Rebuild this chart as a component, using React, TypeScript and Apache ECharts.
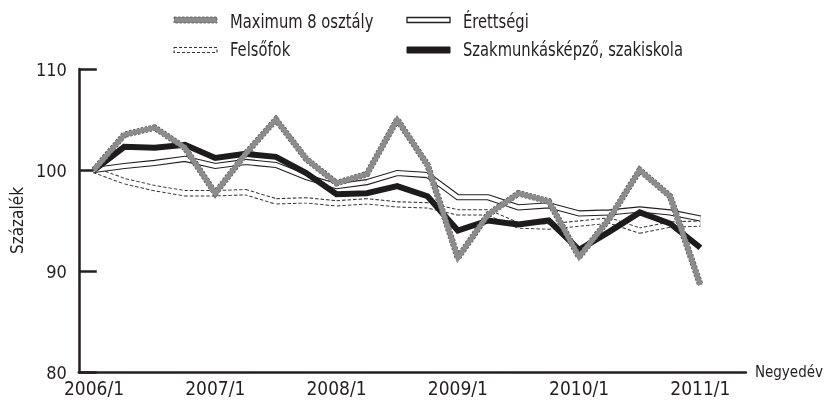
import React, { useEffect, useRef } from "react";
import * as echarts from "echarts";

const categories = [
  "2006/1", "2006/2", "2006/3", "2006/4",
  "2007/1", "2007/2", "2007/3", "2007/4",
  "2008/1", "2008/2", "2008/3", "2008/4",
  "2009/1", "2009/2", "2009/3", "2009/4",
  "2010/1", "2010/2", "2010/3", "2010/4",
  "2011/1", "2011/2",
];

const yTicks = [80, 90, 100, 110];

const max8 = [100, 103.5, 104.2, 102.2, 97.7, 101.6, 105.0, 101.1, 98.7, 99.6, 105.0, 100.5, 91.3, 95.6, 97.7, 96.9, 91.4, 95.2, 100.0, 97.4, 88.6];
const erettsegi = [100, 100.4, 100.7, 101.1, 100.4, 100.8, 100.5, 99.3, 98.4, 98.8, 99.7, 99.5, 97.3, 97.3, 96.3, 96.5, 95.7, 95.8, 96.1, 95.8, 95.2];
const felsofok = [100, 98.9, 98.2, 97.7, 97.7, 97.8, 96.9, 97.0, 96.7, 96.9, 96.6, 96.5, 95.8, 95.8, 94.5, 94.4, 94.7, 95.0, 94.0, 94.6, 94.7];
const szakmunkas = [100, 102.3, 102.2, 102.5, 101.2, 101.6, 101.3, 99.7, 97.6, 97.7, 98.4, 97.4, 94.0, 95.0, 94.6, 95.0, 92.1, 93.9, 95.8, 94.7, 92.3];

const names = ["Maximum 8 osztály", "Érettségi", "Felsőfok", "Szakmunkásképző, szakiskola"];

const FONT = '"DejaVu Sans Condensed", "DejaVu Sans", sans-serif';
const TXT = "#231f20";

function lineSeries(name: string, data: number[], style: any) {
  return {
    type: "line",
    name,
    data,
    symbol: "none",
    silent: true,
    lineStyle: { join: "miter", cap: "butt", ...style },
  };
}

export default function App() {
  const ref = useRef<HTMLDivElement>(null);
  useEffect(() => {
    const chart = echarts.init(ref.current!, null, { renderer: "svg" });
    const legendIcon = (x: number, y: number, style: any, h: number) => ({
      type: "rect",
      shape: { x, y: y - h / 2, width: 43, height: h },
      style,
      silent: true,
    });
    const legendText = (x: number, y: number, text: string) => ({
      type: "text",
      x,
      y,
      scaleX: 0.82,
      style: { text, fontSize: 20, fontFamily: FONT, fill: TXT, align: "left", verticalAlign: "middle" },
      silent: true,
    });
    const option: any = {
      animation: false,
      grid: { left: 72, right: 76, top: 69, bottom: 29, containLabel: false },
      xAxis: {
        type: "category",
        data: categories,
        boundaryGap: true,
        name: "Negyedév",
        nameLocation: "end",
        nameGap: 9,
        nameTextStyle: { fontSize: 15, fontFamily: FONT, color: TXT, verticalAlign: "middle", padding: [0, 0, 10, 0] },
        axisLine: { lineStyle: { color: TXT, width: 2.5 } },
        axisTick: { inside: true, length: 7, interval: 0, lineStyle: { color: TXT, width: 2 } },
        axisLabel: {
          interval: 3,
          fontSize: 19,
          fontFamily: FONT,
          color: TXT,
          margin: 6,
        },
        splitLine: { show: false },
      },
      yAxis: {
        type: "value",
        min: yTicks[0],
        max: yTicks[yTicks.length - 1],
        interval: 10,
        name: "Százalék",
        nameLocation: "middle",
        nameRotate: 90,
        nameGap: 50,
        nameTextStyle: { fontSize: 17, fontFamily: FONT, color: TXT },
        axisLine: { show: true, lineStyle: { color: TXT, width: 2.5 } },
        axisTick: { show: true, inside: true, length: 18, lineStyle: { color: TXT, width: 2.5 } },
        axisLabel: { fontSize: 18, fontFamily: FONT, color: TXT, margin: 12 },
        splitLine: { show: false },
      },
      graphic: [
        legendIcon(174, 20, { fill: "#8c8c8c", stroke: "#555", lineWidth: 0.8, lineDash: [2.5, 1.5] }, 6),
        legendText(230, 21, names[0]),
        legendIcon(407, 20, { fill: "#fff", stroke: TXT, lineWidth: 1.3 }, 5),
        legendText(463, 21, names[1]),
        legendIcon(174, 50, { fill: "#fff", stroke: "#333", lineWidth: 1.1, lineDash: [3, 2] }, 5),
        legendText(230, 49, names[2]),
        legendIcon(407, 50, { fill: "#1e1b1c", stroke: "#1e1b1c", lineWidth: 1 }, 6),
        legendText(463, 49, names[3]),
      ],
      series: [
        lineSeries(names[2], felsofok, { color: "#333", width: 6.3, type: [3.5, 2] }),
        lineSeries(names[2] + " belső", felsofok, { color: "#fff", width: 4.3, type: "solid" }),
        lineSeries(names[1], erettsegi, { color: TXT, width: 6.2, type: "solid" }),
        lineSeries(names[1] + " belső", erettsegi, { color: "#fff", width: 4, type: "solid" }),
        lineSeries(names[3], szakmunkas, { color: "#1e1b1c", width: 6, type: "solid" }),
        lineSeries(names[0], max8, { color: "#555", width: 6.4, type: [2.5, 1.5] }),
        lineSeries(names[0] + " belső", max8, { color: "#8c8c8c", width: 5.0, type: "solid" }),
      ],
    };
    chart.setOption(option);
    return () => chart.dispose();
  }, []);
  return <div ref={ref} style={{ position: "fixed", left: 0, top: 0, width: 826, height: 401 }} />;
}
